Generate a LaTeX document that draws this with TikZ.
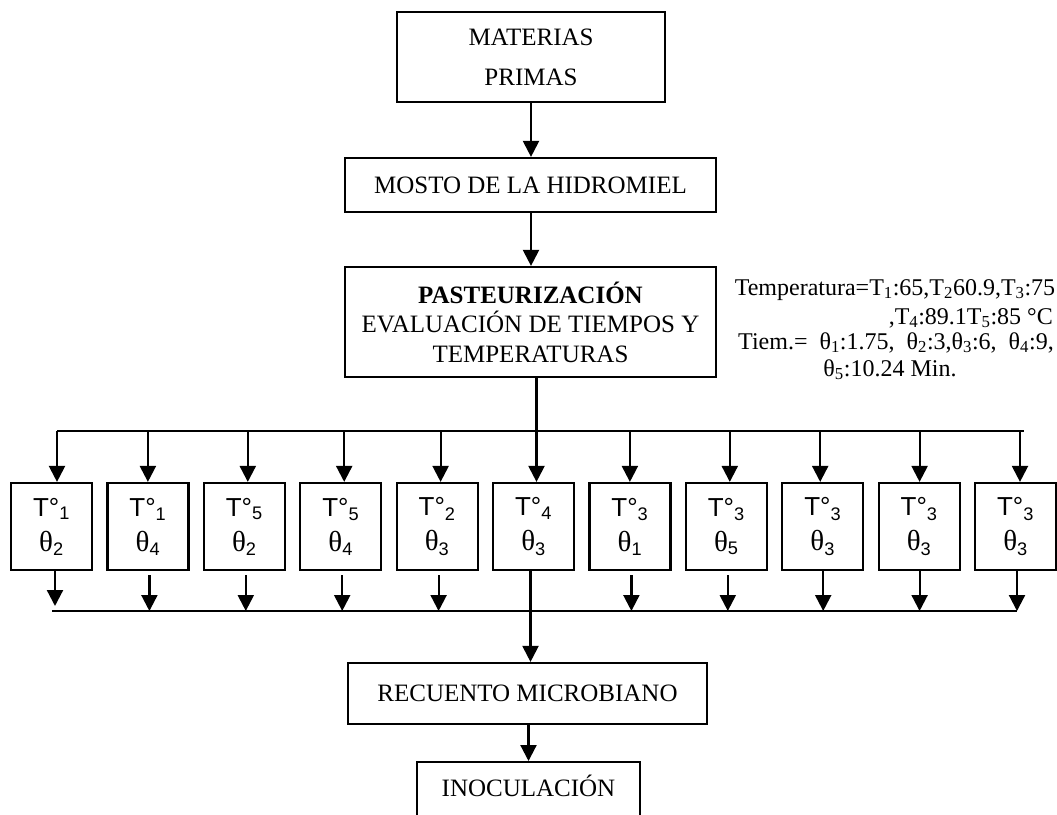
\documentclass[tikz,border=0pt]{standalone}
\usepackage{fontspec}
\setmainfont{Liberation Serif}
\newfontfamily\arialfont{Liberation Sans}
\usetikzlibrary{arrows.meta,calc}

\begin{document}
\begin{tikzpicture}[x=1pt,y=-1pt,
  box/.style={draw,line width=2.2pt,inner sep=0pt,align=center,
    font=\fontsize{25}{29.5}\selectfont},
  tbox/.style={draw,line width=2.2pt,inner sep=0pt,minimum width=81pt,
    minimum height=87pt,align=center,font=\arialfont\fontsize{26}{35}\selectfont},
  th/.style={font=\rmfamily\fontsize{29}{35}\selectfont},
  flow/.style={line width=2.2pt,-{Triangle[length=16pt,width=16pt]}},
  bus/.style={line width=2.2pt},
  note/.style={inner sep=0pt,font=\fontsize{24}{27}\selectfont}]

\useasboundingbox (0,0) rectangle (1057,814);
\clip (0,0) rectangle (1057,814);

% main chain
\node[box,minimum width=268pt,minimum height=90pt,
  font=\fontsize{25}{40}\selectfont] (mp) at (531,57) {MATERIAS\\PRIMAS};
\node[box,minimum width=371pt,minimum height=54pt] (mosto) at (530.5,185)
  {MOSTO DE LA HIDROMIEL};
\node[box,minimum width=371pt,minimum height=110pt] (past) at (530.5,322)
  {\textbf{PASTEURIZACIÓN}\\EVALUACIÓN DE TIEMPOS Y\\TEMPERATURAS};
\draw[flow] (mp.south) -- (mp.south |- mosto.north);
\draw[flow] (mp.south |- mosto.south) -- (mp.south |- past.north);

% process parameters
\node[note,anchor=base] (n1) at (895,295)
  {Temperatura=T\textsubscript{1}:65,T\textsubscript{2}60.9,T\textsubscript{3}:75};
\node[note,anchor=base east] (n2) at (1053,324)
  {,T\textsubscript{4}:89.1T\textsubscript{5}:85 °C};
\node[note,anchor=base] (n3) at (896,349)
  {Tiem.=\ \ θ\textsubscript{1}:1.75,\ \ θ\textsubscript{2}:3,θ\textsubscript{3}:6,\ \ θ\textsubscript{4}:9,};
\node[note,anchor=base] (n4) at (890,376) {θ\textsubscript{5}:10.24 Min.};

% treatment boxes
\foreach \i/\tt/\th in {1/1/2,2/1/4,3/5/2,4/5/4,5/2/3,6/4/3,7/3/1,8/3/5,9/3/3,10/3/3,11/3/3}{
  \node[tbox] (t\i) at ({51.5+96.4*(\i-1)},526.5)
    {T°\textsubscript{\tt}\\{\rmfamily\fontsize{29}{35}\selectfont θ}\textsubscript{\th}};
}

% distribution bus
\coordinate (tl) at (57,431);
\coordinate (tr) at (1024,431);
\draw[bus] (tl) -- (tr);
\foreach \i/\dx in {1/5.5,2/0,3/3.5,4/3.5,5/3.5,6/3,7/0,8/3.5,9/-2.5,10/0.5,11/4.5}{
  \coordinate (a\i) at ($(t\i.north)+(\dx,0)$);
}
\draw[flow] (a6 |- past.south) -- (a6);
\foreach \i in {1,2,3,4,5,7,8,9,10,11}{
  \draw[flow] (a\i |- tl) -- (a\i);
}

% collecting bus
\coordinate (bl) at (52,611);
\coordinate (br) at (1017,611);
\draw[bus] (bl) -- (br);
\foreach \i/\dx in {1/3.5,2/1.5,3/1.5,4/1.5,5/1.5,6/-3,7/1.5,8/1.5,9/0.5,10/0.5,11/1.5}{
  \coordinate (b\i) at ($(t\i.south)+(\dx,0)$);
}
\draw[flow] (b1) -- ($(b1 |- bl)+(0,-5)$);
\foreach \i in {2,3,4,5,7,8}{
  \draw[flow] ($(b\i)+(0,4)$) -- (b\i |- bl);
}
\foreach \i in {9,10,11}{
  \draw[flow] (b\i) -- (b\i |- bl);
}

% final steps
\node[box,minimum width=359pt,minimum height=61pt] (rec) at (527.5,693.5)
  {RECUENTO MICROBIANO};
\draw[flow] (b6) -- (b6 |- rec.north);
\node[box,minimum width=223pt,text height=34pt,text depth=40pt,anchor=north]
  (ino) at (528.5,761) {INOCULACIÓN};
\draw[flow] (rec.south -| ino.north) -- (ino.north);
\end{tikzpicture}
\end{document}
